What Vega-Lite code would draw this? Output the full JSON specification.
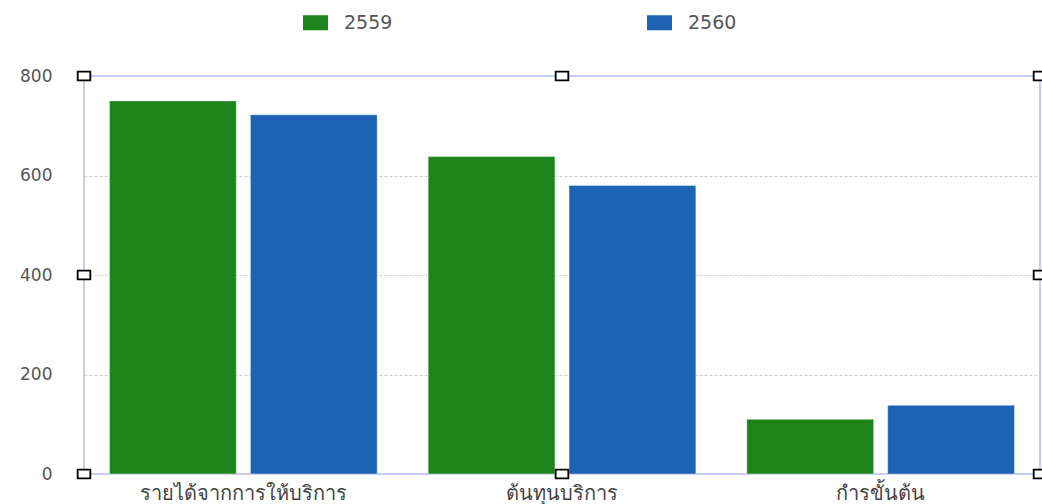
{
  "$schema": "https://vega.github.io/schema/vega-lite/v6.json",
  "width": 956,
  "height": 398,
  "autosize": "none",
  "padding": {"left": 84, "top": 76, "right": 2, "bottom": 30},
  "background": "white",
  "config": {
    "view": {"stroke": "#b4bcf6", "strokeWidth": 1.5},
    "font": "DejaVu Sans"
  },
  "datasets": {
    "bars": [
      {"category": "รายได้จากการให้บริการ", "year": "2559", "value": 750},
      {"category": "รายได้จากการให้บริการ", "year": "2560", "value": 722},
      {"category": "ต้นทุนบริการ", "year": "2559", "value": 638},
      {"category": "ต้นทุนบริการ", "year": "2560", "value": 580},
      {"category": "กำรขั้นต้น", "year": "2559", "value": 110},
      {"category": "กำรขั้นต้น", "year": "2560", "value": 138}
    ],
    "handles": [
      {"hx": 0, "hy": 0}, {"hx": 0.5, "hy": 0}, {"hx": 1, "hy": 0},
      {"hx": 0, "hy": 400}, {"hx": 1, "hy": 400},
      {"hx": 0, "hy": 800}, {"hx": 0.5, "hy": 800}, {"hx": 1, "hy": 800}
    ]
  },
  "layer": [
    {
      "data": {"name": "bars"},
      "mark": {"type": "bar", "stroke": "#ffffff", "strokeOpacity": 0.4, "strokeWidth": 1},
      "encoding": {
        "x": {
          "field": "category", "type": "nominal",
          "sort": ["รายได้จากการให้บริการ", "ต้นทุนบริการ", "กำรขั้นต้น"],
          "scale": {"paddingInner": 0.16, "paddingOuter": 0.08},
          "axis": {"title": null, "labelAngle": 0, "domain": false, "ticks": false, "labelFontSize": 20, "labelLimit": 0, "labelColor": "#444444", "labelPadding": 9}
        },
        "xOffset": {"field": "year", "type": "nominal", "scale": {"paddingInner": 0.1}},
        "y": {
          "field": "value", "type": "quantitative",
          "scale": {"domain": [0, 800]},
          "axis": {
            "title": null, "values": [0, 200, 400, 600, 800], "domain": false, "ticks": false,
            "labelPadding": 32, "labelFontSize": 17, "labelColor": "#555555",
            "gridDash": [3, 2],
            "gridColor": {"condition": {"test": "datum.value > 0 && datum.value < 800", "value": "#cccccc"}, "value": "transparent"}
          }
        },
        "color": {
          "field": "year", "type": "nominal",
          "scale": {"domain": ["2559", "2560"], "range": ["#1c841b", "#1d63b3"]},
          "legend": {
            "title": null, "orient": "none", "legendX": 219, "legendY": -66, "direction": "horizontal",
            "symbolType": "M-1,-0.6H1V0.6H-1Z", "symbolSize": 625, "symbolStrokeWidth": 0,
            "labelFontSize": 19, "labelColor": "#555555", "labelOffset": 16, "columnPadding": 254, "padding": 0
          }
        }
      }
    },
    {
      "data": {"name": "handles"},
      "mark": {"type": "point", "shape": "M-1,-0.7H1V0.7H-1Z", "size": 160, "filled": true, "fill": "white", "stroke": "black", "strokeWidth": 1.8, "opacity": 1},
      "encoding": {
        "x": {"field": "hx", "type": "quantitative", "scale": {"domain": [0, 1]}, "axis": null},
        "y": {"field": "hy", "type": "quantitative"}
      }
    }
  ],
  "resolve": {"scale": {"x": "independent"}}
}
